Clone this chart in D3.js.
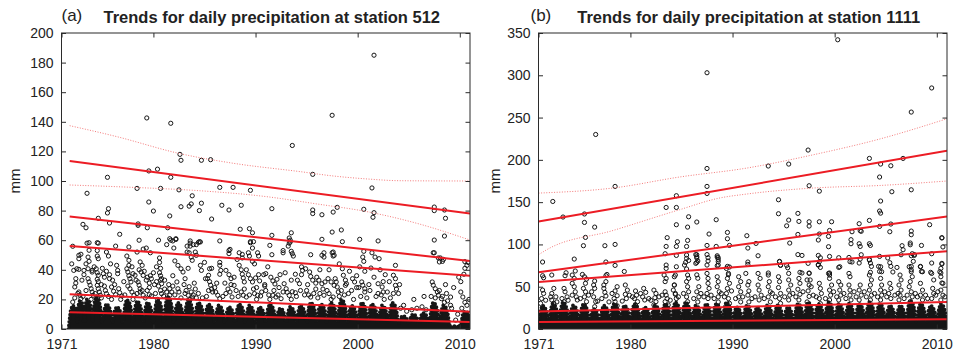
<!DOCTYPE html>
<html>
<head>
<meta charset="utf-8">
<script src="https://cdn.jsdelivr.net/npm/d3@7"></script>
<style>
  body { margin: 0; background: #fff; }
  svg { display: block; font-family: "Liberation Sans", Arial, Helvetica, sans-serif; }
</style>
</head>
<body>
<svg id="chart" width="957" height="353"></svg>
<script>
// ---------- Station 512 ----------
const yearTicks = [1971, 1980, 1990, 2000, 2010];
const mmTicksA = [0, 20, 40, 60, 80, 100, 120, 140, 160, 180, 200];
const mmTicksB = [0, 50, 100, 150, 200, 250, 300, 350];

// daily amounts that stand out from the dense mass (year, mm)
const pointsA = [
  [2001.6,185],[1979.35,142.6],[1981.7,139],[1997.5,144.4],[1993.6,124],[1982.6,118],[1982.7,114],[1984.7,114],[1985.6,114.4],
  [1995.6,104.5],[1979.55,106.8],[1980.4,108],[1975.5,102.5],[1981.7,102.5],[1973.5,91.7],[1978.4,95],[1980.7,95],[1982.5,94],
  [1986.5,95.7],[1987.8,95.7],[1989.5,93.7],[2001.4,95.3],[1979.55,85.8],[1980,79.7],[1975.6,81.3],[1975.5,78.4],[1975.7,71.6],
  [1973.1,70.7],[1973.4,68.4],[1974.6,74.8],[1976.7,64],[1978.5,71],[1978.5,70],[1979.4,68.4],[1981.6,76.4],[1981.4,68.4],
  [1982.7,82.6],[1983.5,83],[1983.7,84.5],[1983.8,90],[1984.5,80],[1984.7,85],[1985.7,74.3],[1986.7,83.6],[1987.4,80.4],
  [1988.6,83.6],[1988.5,67.4],[1989.4,67.8],[1989.7,65],[1991.6,81.3],[1995.6,80.4],[1995.6,78],[1996.5,77.2],[1998,82.2],
  [1997.6,79],[2000.6,80.9],[2001.6,78.6],[2001.5,75.5],[2007.5,82.4],[2007.5,80],[2008.5,80.4],[2008.6,74.8],[2008.5,62.8],
  [2007.5,60.1],[1993.5,65],[1993.4,60],[1993.3,58],[1991.6,63.3],[1991.4,56.5],[1997.5,65.5],[1998.4,66.9],[1998.5,59],
  [1996.5,60.6],[2000.2,60.6],[2002,59.5],[1973.5,58],[1974.6,58],[1978.6,60],[1980.5,60],[1981.7,60],[1981.9,59.5],
  [1982.2,60.5],[1983.6,59.5],[1983.6,58],[1984.5,59],[1986.5,59.5],[1989.5,59],[1989.5,58.3],[1989.8,59],[1983.3,56],
  [1983.6,56],[1976.3,56],[1979,54],[1987.4,53],
  [1981.6,61],[1982.2,61],[1983.9,57],[1984.2,57],[1984.4,58.5],[1973.7,58.3],[1974.5,58.3],[1972.1,55.9],[1972.7,49.8],
  [1972.7,47.5],[1973.7,53.2],[1973.6,48.6],[1973.7,45.7],[1974.5,53],[1974.5,49.3],[1974.6,47.5],[1975.4,52],[1975.6,49.3],
  [1975.8,44],[1977.4,49.3],[1977.6,46.4],[1977.6,43],[1977.6,55.4],[1979.3,54.7],[1979.7,51.5],[1978.7,45.3],[1978.9,43],
  [1980.6,48],[1980.6,45],[1980.7,41],[1980.6,38],[1980.7,36],[1980.8,34],[1982.4,43],[1982.7,40.7],[1982.9,38.5],
  [1983.3,52],[1983.5,51.5],[1983.7,48.6],[1983.8,46.4],[1984.1,52],[1984.2,49.8],[1982,54.7],[1981.3,57],[1978.4,52],
  [1976.5,39.6],[1976.5,37.4],[1972.2,39.6],[1972.5,40.7],[1972.7,40.3],[1973.2,39.6],[1973.2,36.7],[1973.6,40.7],[1974,38.5],
  [1974,39.6],[1974.4,40.7],[1974.5,38],[1974.6,36.3],[1974.5,33.6],[1974.6,32],[1975.1,37.4],[1975.2,35],[1975.4,39],
  [1975.7,36.7],[1975.7,34],[1977.4,40.7],[1977.5,38.5],[1977.6,36],[1977.7,34],[1977.8,31.8],[1978,37.4],[1978.2,36.3],
  [1978.3,33],[1978.8,38.5],[1979,36.2],[1979.1,39],[1979.3,33],[1979.4,35],[1979.7,36],[1979.8,34],[1980,38],[1980.1,30],
  [1980.3,32],[1980.5,29],[1978.5,31.8],[1978.6,29.6],[1978.7,27.2],[1980.7,33],[1980.8,30.6],[1981.5,30],[1981.6,27.2],
  [1981.8,25],[1982.3,31.8],[1982.4,27.2],[1982.5,25],[1983,30],[1983.2,26],[1983.5,28.6],[1983.7,25],[1983.9,23],[1984.1,27],
  [1972.4,34],[1972.3,28.4],[1972.1,18.2],[1972.7,25],[1972.8,22.8],[1972.9,20.5],[1973.6,34],[1973.7,31.8],[1973.8,29.6],
  [1973.9,27.2],[1974,25],[1974.1,22.8],[1974.5,29.5],[1974.6,27.2],[1974.7,25],[1974.8,22.8],[1975.3,26],[1975.4,23.9],
  [1975.9,28.4],[1976.1,25.5],[1976.3,23.2],[1976.6,27.2],[1976.7,24.5],[1976.9,22.3],[1977.7,27.2],[1977.9,25],[1978.1,22.8],
  [1978.7,25],[1979,22.8],[1979.4,26],[1979.6,23.2],[1979.8,22.3],[1980.7,26],[1980.8,23.9],[1981,22.3],[1981.3,25],
  [1981.6,22.8],[1983.4,22.8],[1983.8,21.6],[1984.2,21],[1972.9,50.5],
  [1993.3,61.5],[1993.4,58.8],[1984.6,58.8],[1993.2,56],[1989.7,54.7],[1988.4,51.5],[1987.5,53.8],[1987.4,50.9],[1988.7,50.4],
  [1988.7,48],[1989.4,49.3],[1989.3,51.5],[1990.2,51.5],[1990.3,49.3],[1989.9,44],[1989.7,45.7],[1991.6,50.2],[1992.7,51.5],
  [1992.7,53],[1993.6,50.9],[1993.7,49.3],[1993.5,52.5],[1995.4,50.2],[1996.5,49.8],[1996.7,51.5],[1996.7,48.6],[1997.5,51.5],
  [1997.6,49.3],[1984.6,43],[1984.7,39.6],[1985.1,34],[1985.3,34],[1985.4,36.3],[1985.5,40.7],[1985.7,41],[1985.5,32],
  [1985.6,29.6],[1985.7,27],[1985.8,25],[1986.5,45],[1986.5,43],[1986.6,39.6],[1986.5,37],[1987.1,39.6],[1987.4,36.7],
  [1987.6,34],[1988.4,43],[1988.6,40],[1988.7,37],[1988.8,34.5],[1988.9,31.8],[1989.3,36.7],[1989.5,34],[1989.7,31.8],
  [1990,34.5],[1990.3,36.7],[1990.4,32.5],[1990.8,36.7],[1991,37.4],[1991.5,35],[1991.7,32.5],[1991.9,30.4],[1992.1,33.6],
  [1992.4,36.7],[1992.8,30.6],[1993,27.2],[1993.1,24.8],[1993.3,22.7],[1993.6,25.2],[1993.9,24.5],[1994.3,30.6],[1994.5,36.7],
  [1994.6,39.6],[1994.5,42],[1994.9,40.7],[1995.3,38.5],[1995.4,35.5],[1995.6,33],[1996,35],[1996.2,33],[1996.5,30.6],
  [1996.8,31.8],[1997.1,34],[1997.4,31.8],[1997.7,29.5],[1986.1,25],[1986.3,22.8],[1986.5,20.5],[1987.3,27],[1987.5,25],
  [1987.7,21.6],[1987.9,29.5],[1988.1,26],[1988.6,25],[1988.8,22.8],[1989.1,21.6],[1989.9,23.9],[1990.2,22.8],[1990.5,22.3],
  [1991,26],[1991.3,23],[1991.7,22.8],[1992,21.6],[1992.5,20.5],[1995,26],[1995.2,23],[1995.4,21.6],[1995.9,27],[1996.3,24],
  [1996.7,22.8],[1997.2,23.9],[1997.6,21.6],
  [2007.5,51.5],[2008.1,48],[2008.3,45.7],[2008,45.3],[1997.6,52],[1997.7,49.8],[2000.6,52.5],[2000.5,48.6],[2000.6,45.7],
  [2001.4,51.5],[2001.7,48.6],[2002.1,47.5],[2001.3,41.2],[2003.7,43],[2000.7,39],[1998.5,40.7],[1998.6,36.3],[1998.8,33],
  [1998.9,30.6],[1998.8,29.5],[1999.5,34],[1999.7,31.8],[2000.4,31.8],[2000.5,29.6],[2000.7,27.2],[2001.6,35],[2002,30.6],
  [2002.7,36.7],[2002.5,32],[2002.4,28.4],[2002.5,25],[2003.5,36.3],[2003.7,34],[2003.7,29.5],[1997.8,34],[1997.9,31.8],
  [1998,28.4],[1998.1,25],[2007.3,31.8],[2007.4,29.6],[2007.6,27.2],[2007.8,25],[2007.9,22.8],[2008,26],[2008.2,20.5],
  [2008.5,18],[2008.8,19],[2009.1,16],[2009.2,14],[2009.9,35],[2010.1,32],[2010.4,37],[2010.5,41],[2010.7,43],[2010.8,45],
  [2010.1,25],[2010.3,21.6],[2010.5,18],[2010.7,16],[2009.1,21.6],[2004.5,16],[2007.4,51.5],[2007.9,48],[2008.4,47],
  [2010.5,45.5],[1998.4,26],[1999.4,26],[2000.1,28],[2000.7,25],[2002,24],[2002.3,23],[2002.9,25],[2003.8,27],[2004,24],
  [1972.3,21],[1972.6,24],[1973.1,22],[1973.4,26],[1973.9,20],[1974.3,24],[1974.9,21],[1975.2,29],[1975.6,22],[1975.9,20],
  [1976.2,30],[1976.8,20],[1977.2,23],[1977.5,29],[1978,20],[1978.4,24],[1978.9,26],[1979.2,21],[1979.6,28],[1980.2,24],
  [1980.4,20],[1981.1,27],[1981.4,21],[1981.9,29],[1982.1,23],[1982.7,21],[1983.1,24],[1983.6,20],[1984.4,24],[1984.8,21],
  [1985.2,22],[1985.4,26],[1986,28],[1986.8,22],[1987.1,24],[1987.6,30],[1988.3,22],[1988.9,27],[1989.4,23],[1989.8,27],
  [1990.1,20],[1990.6,25],[1990.9,29],[1991.4,20],[1991.8,26],[1992.2,23],[1992.7,25],[1993.5,20],[1994,22],[1994.4,26],
  [1994.8,23],[1995.7,24],[1996.1,21],[1996.6,27],[1997,26],[1997.4,20],[1998.2,22],[1998.7,23],[1999.1,24],[1999.6,20],
  [1999.9,28],[2000.3,22],[2000.9,21],[2001.2,26],[2001.8,22],[2002.6,20],[2003.2,21],[2003.5,24],[2004.2,14],[2004.8,12],
  [2005.3,13],[2005.8,14],[2006.3,15],[2006.7,13],[2007.2,22],[2007.6,21],[2008.3,22],[2008.7,24],[2009.6,6],[2009.8,10],
  [2010.2,14],[2010.9,20],
  [1972,44],[1972.4,31],[1973,33],[1973.4,44],[1974.2,42],[1974.9,30],[1975,41],[1976,33],[1976.4,43],[1977.1,32],
  [1977.9,42],[1978.6,40],[1979.6,31],[1980.3,42],[1981.1,33],[1981.9,36],[1982.1,46],[1983.1,34],[1983.4,41],[1984,31],
  [1985,45],[1986.2,31],[1987,31],[1987.9,35],[1988.2,47],[1989.1,40],[1990.1,28],[1990.9,30],[1991.2,42],[1992.3,28],
  [1992.9,38],[1993.5,33],[1993.9,37],[1994.1,33],[1995.1,30],[1995.9,31],[1996.3,40],[1997.2,40],[1998.2,44],[1999.2,39],
  [1999.9,36],[2000.2,42],[2001.1,30],[2002.2,40],[2003.1,32],[2004.1,30],[2005.5,20],[2006.5,22],[2008.6,30],[2009.4,28]
];

// wet-season piles of overlapping small values (season centre, top of pile mm, optional floor mm)
const denseA = [
  [1972.2,16],[1972.9,19],[1973.6,20],[1974.5,22],[1975.5,17],[1976.5,15],[1977.5,20],[1978.5,19],[1979.5,18],[1980.5,20],
  [1981.5,22],[1982.5,18],[1983.5,20],[1984.5,18],[1985.5,17],[1986.5,16],[1987.5,15],[1988.5,17],[1989.5,16],[1990.5,15],
  [1991.5,17],[1992.5,14],[1993.5,15],[1994.5,16],[1995.5,18],[1996.5,17],[1997.5,18],[1998.5,20],[1999.5,16],[2000.5,18],
  [2001.5,17],[2002.5,16],[2003.5,18],[2004.5,9,4],[2005.5,10,4],[2006.5,11,4],[2007.5,18],[2008.5,16],[2009.5,2,1],[2010.6,12]
];
const denseFloorA = 5;

// quantile regression lines (mm at start, mm at end)
const trendA = [[113.5,78],[76,46],[56,36],[23.4,11.7],[11.3,4.7]];
const spanA = [1971.8, 2011];
// confidence band around the upper quantile
const upperA = [[1971.8,137.4],[1976.4,130],[1982.6,118.5],[1987.8,112],[1994.4,106.3],[1997.6,103.4],[2000.9,101.4],[2004.1,100.2],[2011,100]];
const lowerA = [[1971.8,97.3],[1978,95.7],[1984.6,93.4],[1991.1,89.4],[1996,84.5],[2000.9,79.3],[2005.8,71.4],[2011,60.1]];

// ---------- Station 1111 ----------
const pointsB = [
  [2000.3,342],[1987.5,303],[2009.5,285],
  [2007.5,256.5],[1976.6,230],[1997.4,211.6],[1993.5,192.7],[1995.5,195],[1987.5,189.8],[2003.4,201.7],[2004.5,195],
  [2005.5,193],[2006.7,201.7],[2004.4,179.7],[1978.5,168.6],[1987.5,168.6],[1987.5,160.3],[1997.5,169.4],[1998.5,163],
  [2007.5,164.6],[2005.6,162.3],[1972.4,150.8],[1984.5,157.6],[1994.5,152.8],[2004.5,151.3],[2004.4,139.5],[2004.5,137],
  [1973.4,132.4],[1975.5,136],[1975.5,126],[1976.5,120.5],[1983.5,143.7],[1984.5,143.7],[1984.5,123.3],[1985.7,132.7],
  [1985.6,120.5],[1986.5,126.5],[1988.4,129.2],[1987.7,112.3],[1989.5,114.2],[1989.5,106.7],[1994.5,136.3],[1995.3,122],
  [1995.5,128.8],[1996.4,136.7],[1996.5,127.2],[1996.4,111.8],[1997.5,121.7],[1997.5,126.8],[1998.5,126.8],[1999.7,126.8],
  [1999.5,116.5],[1998.5,112.3],[1998.4,105.2],[1999.4,109.5],[1999.4,97.3],[2001.7,115],[2002.4,124.5],[2002.5,116.2],
  [2002.6,115.5],[2003.4,128.4],[2004.4,121.3],[2005.4,115],[2005.5,124.1],[2007.5,115.8],[2007.5,111.5],[2009.3,123.3],
  [2010.5,108],[2007.4,99.6],[2008.5,98.8],[2002.4,100.8],[2003.4,100.8],[2003.5,98.8],[2002.5,97.6],[1995.6,101.6],
  [1991.4,110.3],[1992.3,101.2],[1991.5,95.7],[1975.4,98.5],[1975.6,108.3],[1977.5,98.5],[1978.5,100],[1983.5,97.6],
  [1983.6,108],[1984.6,103.2],[1984.5,97.6],[1985.5,97.6],[1985.6,104.7],[1987.5,98.8],[1988.4,97.6],[1989.7,98.8],
  [1971.4,79.2],[1974.5,82.7],[1977.6,79.2],[1978.5,75.2],[1979.4,68],[1983.4,89],[1984.5,87],[1985.5,87.5],[1985.7,81],
  [1986.5,87.8],[1986.5,84],[1986.5,78.7],[1988.5,86.6],[1988.5,85],[1988.6,82],[1988.5,74.8],[1989.5,74],[1989.7,73.3],
  [1989.6,64.2],[1992.5,86.6],[1991.5,79.2],[1993.5,66.2],[1994.6,80],[1994.7,75.2],[1995.3,75.2],[1996.8,87],[1996.8,66.2],
  [1997.5,66.2],[1998.4,87],[1998.6,84.3],[1998.4,76],[1998.6,72.8],[1999.5,85.8],[1999.5,66.2],[1999.5,63.8],[2000.4,84.3],
  [2000.4,72.8],[2001.6,105.6],[2001.6,100.8],[2001.7,79.2],[2002.6,87.8],[2002.5,82.7],[2002.4,78],[2003.4,82],[2003.5,78],
  [2003.6,74],[2003.5,67],[2004.4,85.8],[2005.4,78.4],[2005.5,74],[2005.7,67.4],[2005.2,84],[2006.5,87.8],[2006.7,93.7],
  [2006.6,98.5],[2007.4,101.7],[2007.6,89],[2007.8,87],[2007.7,80],[2007.5,74],[2007.5,70],[2008.4,74],[2008.5,68],
  [2009.5,89],[2009.5,78],[2009.4,67],[2010.5,107.6],[2010.6,97],[2010.5,76.8],[2010.4,66.2],[2010.5,54.4],[2004.3,74],
  [2004.4,68],[2006.1,72.8],[2001.4,84.6],[2001.5,79.6],[2003.4,81.6],[2010.4,71.6],[2010.3,67.7],
  [1971.4,63],[1971.5,60.6],[1972.3,63.8],[1973.6,63],[1973.7,66.5],[1974.3,63.8],[1974.6,68.6],[1974.5,59.8],[1974.3,54],
  [1975.3,64.5],[1975.5,61.8],[1975.7,59],[1976.5,56.7],[1976.4,52],[1976.5,48],[1977.4,52],[1977.6,56],[1977.4,48],
  [1977.5,43.3],[1977.6,39],[1977.7,64.5],[1977.6,63],[1978.7,50],[1978.5,45],[1978.7,39.4],[1978.4,36],[1978.5,32.3],
  [1978.7,27.5],[1979.5,52],[1979.7,46],[1979.5,41],[1979.6,36],[1980.5,45],[1980.6,40],[1980.4,36],[1980.7,32.3],
  [1980.5,28.4],[1981.3,48],[1981.5,43.3],[1981.2,38],[1981.4,34.3],[1982.3,46],[1982.5,42],[1982.4,37],[1982.5,32.3],
  [1982.3,28.4],[1983.5,75.6],[1983.5,71.6],[1983.3,63.8],[1983.5,59.8],[1983.4,56],[1983.4,44],[1983.5,40],[1983.6,36],
  [1983.4,32.3],[1983.7,28.4],[1984.3,61.8],[1984.3,52],[1984.2,46],[1984.4,41],[1972.5,48],[1972.3,42],[1972.7,38],
  [1972.3,34.3],[1972.5,30.3],[1971.4,46],[1971.5,42],[1971.3,36],[1971.2,30.3],[1973.5,48],[1973.6,44],[1973.8,38],
  [1973.5,32.3],[1974.5,50],[1974.6,44],[1974.7,38],[1974.8,34.3],[1975.6,54],[1975.4,48],[1975.6,44],[1975.5,38],
  [1975.7,32.3],[1975.5,26.4],[1976.4,38],[1976.6,32.3],[1976.5,26.4],
  [1986.4,88],[1986.5,85.5],[1986.6,80.4],[1986.4,77.6],[1987.5,88],[1987.6,84.3],[1987.6,80.4],[1988.6,84.3],[1988.6,79.6],
  [1988.6,75.6],[1987.5,75.6],[1985.4,78.7],[1985.3,75.6],[1985.5,83.5],[1984.5,73.6],[1984.4,63.8],[1984.3,52],[1984.4,42],
  [1984.5,36],[1985.5,71],[1985.6,63.8],[1985.7,59.8],[1985.5,56],[1985.6,50],[1985.7,44],[1985.5,38],[1985.6,32.3],
  [1986.5,64],[1986.6,60],[1986.7,50],[1986.5,44],[1986.7,38],[1986.6,32],[1987.5,65.7],[1987.6,59.8],[1987.6,54],
  [1987.7,48],[1987.5,42],[1987.6,36],[1988.5,61.8],[1988.6,56],[1988.5,50],[1988.7,44],[1988.6,38],[1988.6,32],
  [1989.4,71.6],[1989.6,65.7],[1989.5,59.8],[1989.7,54],[1989.5,48],[1989.4,42],[1989.6,36],[1989.7,30.3],[1990.6,61.8],
  [1990.8,56],[1990.6,50],[1990.8,44],[1990.6,38],[1990.8,32],[1991.5,76.4],[1991.3,65.7],[1991.6,56],[1991.5,52],
  [1991.6,45],[1991.5,40],[1991.6,32],[1992.5,65.7],[1992.7,59.8],[1992.5,52],[1992.6,46],[1992.8,40],[1992.6,34.3],
  [1993.5,63.8],[1993.6,56],[1993.5,50],[1993.7,44],[1993.5,38],[1993.7,32],[1994.6,79.6],[1994.7,75.6],[1994.5,61.8],
  [1994.6,56],[1994.5,49],[1994.7,42],[1994.6,36],[1994.7,30.3],[1995.4,72.4],[1995.5,65.7],[1995.5,58],[1995.7,52],
  [1995.5,46],[1995.6,40],[1995.5,34.3],[1996.4,88],[1996.6,67],[1996.5,59.8],[1996.6,54],[1996.4,47],[1996.6,41],
  [1996.5,34.3],[1997.4,77.6],[1997.5,65.7],[1997.3,58],[1997.5,52],[1997.4,45],[1997.5,38.5],[1997.3,32],
  [2007.5,86.6],[2007.8,88],[2010.5,77.6],[1997.6,58],[1997.7,50],[1998.4,75.6],[1998.5,79.6],[1998.5,54],[1998.6,48],
  [1998.7,42],[1998.5,36],[1998.6,30],[1999.4,65.7],[1999.5,59.8],[1999.7,52],[1999.5,46],[1999.6,40],[1999.5,34.3],
  [2000.5,73.6],[2000.4,56],[2000.6,52],[2000.5,46],[2000.6,40],[2000.4,34.3],[2001.4,65.7],[2001.5,61.8],[2001.4,52],
  [2001.5,46],[2001.5,40],[2001.6,34.3],[2002.5,52],[2002.4,46],[2002.6,40],[2002.4,34.3],[2003.4,63.8],[2003.6,58],
  [2003.5,52],[2003.4,46],[2003.6,40],[2003.5,34.3],[2004.5,73.6],[2004.6,67.7],[2004.5,59.8],[2004.6,52],[2004.5,46],
  [2004.6,40],[2004.5,34.3],[2005.4,54],[2005.5,48],[2005.3,42],[2005.5,36],[2006.4,63.8],[2006.5,58],[2006.3,52],
  [2006.5,46],[2006.4,40],[2006.3,34.3],[2007.3,73.6],[2007.5,67.7],[2007.6,61.8],[2007.4,56],[2007.3,50],[2007.5,44],
  [2007.6,38],[2007.4,32.3],[2008.4,73.6],[2008.6,67.7],[2008.4,54],[2008.6,46],[2008.4,40],[2008.6,34.3],[2009.5,65.7],
  [2009.7,58],[2009.6,48],[2009.7,42],[2009.5,36],[2010.4,61.8],[2010.6,54],[2010.4,46],[2010.6,40],[2010.4,34.3],
  [1971.7,34],[1972.2,38],[1972.8,32],[1973.3,36],[1973.9,34],[1974.3,40],[1975.1,36],[1975.9,40],[1976.2,44],[1976.8,33],
  [1977.2,36],[1977.9,32],[1978.2,42],[1979.2,33],[1979.9,40],[1980.2,38],[1981,42],[1981.8,36],[1982,34],[1982.8,38],
  [1983.1,40],[1983.9,34],[1984.7,38],[1985.2,42],[1986.2,36],[1986.9,42],[1987.2,38],[1987.9,40],[1988.2,36],[1988.9,42],
  [1989.2,38],[1989.9,45],[1990.3,36],[1991,38],[1991.9,36],[1992.2,38],[1993.1,36],[1993.9,42],[1994.2,38],[1995.1,38],
  [1995.9,42],[1996.2,38],[1996.9,44],[1997.9,40],[1998.2,38],[1999.1,36],[1999.9,44],[2000.2,38],[2000.9,42],[2001.1,36],
  [2001.9,44],[2002.1,38],[2002.9,44],[2003.1,38],[2003.9,42],[2004.2,38],[2004.9,44],[2005.1,38],[2005.9,40],[2006.2,42],
  [2006.8,36],[2007.1,40],[2007.9,42],[2008.1,38],[2008.9,40],[2009.1,36],[2009.9,40],[2010.1,44],[2010.8,38]
];

const denseB = [
  [1971.5,28],[1972.5,30],[1973.5,32],[1974.5,28],[1975.5,30],[1976.5,24],[1977.5,28],[1978.5,30],[1979.5,28],[1980.5,30],
  [1981.5,26],[1982.5,28],[1983.5,30],[1984.5,32],[1985.5,32],[1986.5,28],[1987.5,30],[1988.5,30],[1989.5,32],[1990.5,26],
  [1991.5,28],[1992.5,26],[1993.5,28],[1994.5,28],[1995.5,26],[1996.5,30],[1997.5,32],[1998.5,30],[1999.5,32],[2000.5,30],
  [2001.5,30],[2002.5,30],[2003.5,32],[2004.5,30],[2005.5,28],[2006.5,28],[2007.5,34],[2008.5,30],[2009.5,28],[2010.5,30]
];
const denseFloorB = 9;

const trendB = [[127.2,210.8],[67,133],[55.5,92],[20.8,31.9],[8.3,11.4]];
const spanB = [1971, 2011];
const upperB = [[1971,160.7],[1978.3,166.7],[1984.8,179.7],[1991.4,190.3],[1997.9,206],[2004.4,224.6],[2011,248.6]];
const lowerB = [[1971,87.8],[1971.8,93.7],[1978.3,116.5],[1984.8,141],[1988.7,154.8],[1991.4,159.6],[1997.9,166.7],[2004.4,169.7],[2011,175]];

// ---------- drawing ----------
const svg = d3.select("#chart");
const TOP = 33, BOTTOM = 329;
const AXIS = "#2b2b2b", RED = "#ec1c24", INK = "#161616";

const panels = [
  { id: "a", tag: "(a)", title: "Trends for daily precipitation at station 512", x0: 61.5, x1: 470,
    yMax: 200, ticks: mmTicksA, points: pointsA, dense: denseA, floor: denseFloorA,
    trends: trendA, span: spanA, upper: upperA, lower: lowerA, mmX: 14 },
  { id: "b", tag: "(b)", title: "Trends for daily precipitation at station 1111", x0: 538.5, x1: 947,
    yMax: 350, ticks: mmTicksB, points: pointsB, dense: denseB, floor: denseFloorB,
    trends: trendB, span: spanB, upper: upperB, lower: lowerB, mmX: 494 }
];

panels.forEach(p => {
  const x = d3.scaleLinear().domain([1971, 2011]).range([p.x0, p.x1]);
  const y = d3.scaleLinear().domain([0, p.yMax]).range([BOTTOM, TOP]);
  const g = svg.append("g");

  svg.append("defs").append("clipPath").attr("id", "clip-" + p.id)
    .append("rect").attr("x", p.x0).attr("y", TOP).attr("width", p.x1 - p.x0).attr("height", BOTTOM - TOP);
  const plot = g.append("g").attr("clip-path", `url(#clip-${p.id})`);

  // pile outline: each season rises from its floor to its top and falls back
  const pile = [[p.dense[0][0] - 0.5, 0]];
  p.dense.forEach(([c, top, fl]) => {
    const f = fl === undefined ? p.floor : fl;
    pile.push([c - 0.44, f], [c - 0.3, f + (top - f) * 0.7], [c - 0.12, top],
              [c + 0.12, f + (top - f) * 0.9], [c + 0.3, f + (top - f) * 0.6], [c + 0.44, f]);
  });
  pile.push([p.dense[p.dense.length - 1][0] + 0.5, 0]);

  plot.append("path").datum(pile)
    .attr("d", d3.area().x(d => x(d[0])).y0(y(0)).y1(d => y(d[1])))
    .attr("fill", INK);
  // bumpy rim made of round dots, like the edge of overlapping markers
  plot.append("path").datum(pile)
    .attr("d", d3.line().x(d => x(d[0])).y(d => y(d[1])))
    .attr("fill", "none").attr("stroke", INK).attr("stroke-width", 3.8)
    .attr("stroke-linecap", "round").attr("stroke-dasharray", "0,3.6");

  // individual daily values
  plot.append("g").selectAll("circle").data(p.points).join("circle")
    .attr("cx", d => x(d[0])).attr("cy", d => y(d[1])).attr("r", 2.1)
    .attr("fill", "none").attr("stroke", INK).attr("stroke-width", 1);

  // confidence band (dotted)
  const line = d3.line().x(d => x(d[0])).y(d => y(d[1])).curve(d3.curveMonotoneX);
  [p.upper, p.lower].forEach(b => {
    plot.append("path").datum(b).attr("d", line)
      .attr("fill", "none").attr("stroke", "#f26b6b").attr("stroke-width", 0.9)
      .attr("stroke-dasharray", "1,1.6");
  });

  // quantile trend lines
  plot.append("g").selectAll("line").data(p.trends).join("line")
    .attr("x1", x(p.span[0])).attr("x2", x(p.span[1]))
    .attr("y1", d => y(d[0])).attr("y2", d => y(d[1]))
    .attr("stroke", RED).attr("stroke-width", 2);

  // box and inward ticks on all sides
  g.append("rect").attr("x", p.x0).attr("y", TOP).attr("width", p.x1 - p.x0).attr("height", BOTTOM - TOP)
    .attr("fill", "none").attr("stroke", AXIS).attr("stroke-width", 1);

  const tl = 4.5;
  g.append("g").call(d3.axisBottom(x).tickValues(yearTicks).tickFormat(d3.format("d")).tickSizeInner(-tl).tickSizeOuter(0).tickPadding(10))
    .attr("transform", `translate(0,${BOTTOM})`);
  g.append("g").call(d3.axisTop(x).tickValues(yearTicks).tickFormat("").tickSizeInner(-tl).tickSizeOuter(0))
    .attr("transform", `translate(0,${TOP})`);
  g.append("g").call(d3.axisLeft(y).tickValues(p.ticks).tickSizeInner(-tl).tickSizeOuter(0).tickPadding(8))
    .attr("transform", `translate(${p.x0},0)`);
  g.append("g").call(d3.axisRight(y).tickValues(p.ticks).tickFormat("").tickSizeInner(-tl).tickSizeOuter(0))
    .attr("transform", `translate(${p.x1},0)`);

  g.selectAll(".domain").remove();
  g.selectAll(".tick line").attr("stroke", AXIS);
  g.selectAll(".tick text").attr("fill", "#222").style("font-size", "14px")
    .style("font-family", '"Liberation Sans", Arial, sans-serif');

  // labels
  g.append("text").attr("x", p.mmX).attr("y", 181).attr("transform", `rotate(-90,${p.mmX},181)`)
    .attr("text-anchor", "middle").attr("dominant-baseline", "central")
    .style("font-size", "15px").attr("fill", "#222").text("mm");
  g.append("text").attr("x", (p.x0 + p.x1) / 2 + 6).attr("y", 23).attr("text-anchor", "middle")
    .style("font-size", "16.5px").style("font-weight", "bold").attr("fill", "#222").text(p.title);
  g.append("text").attr("x", p.x0 - (p.id === "b" ? 8 : 0)).attr("y", 21)
    .style("font-size", "17px").attr("fill", "#222").text(p.tag);
});
</script>
</body>
</html>
